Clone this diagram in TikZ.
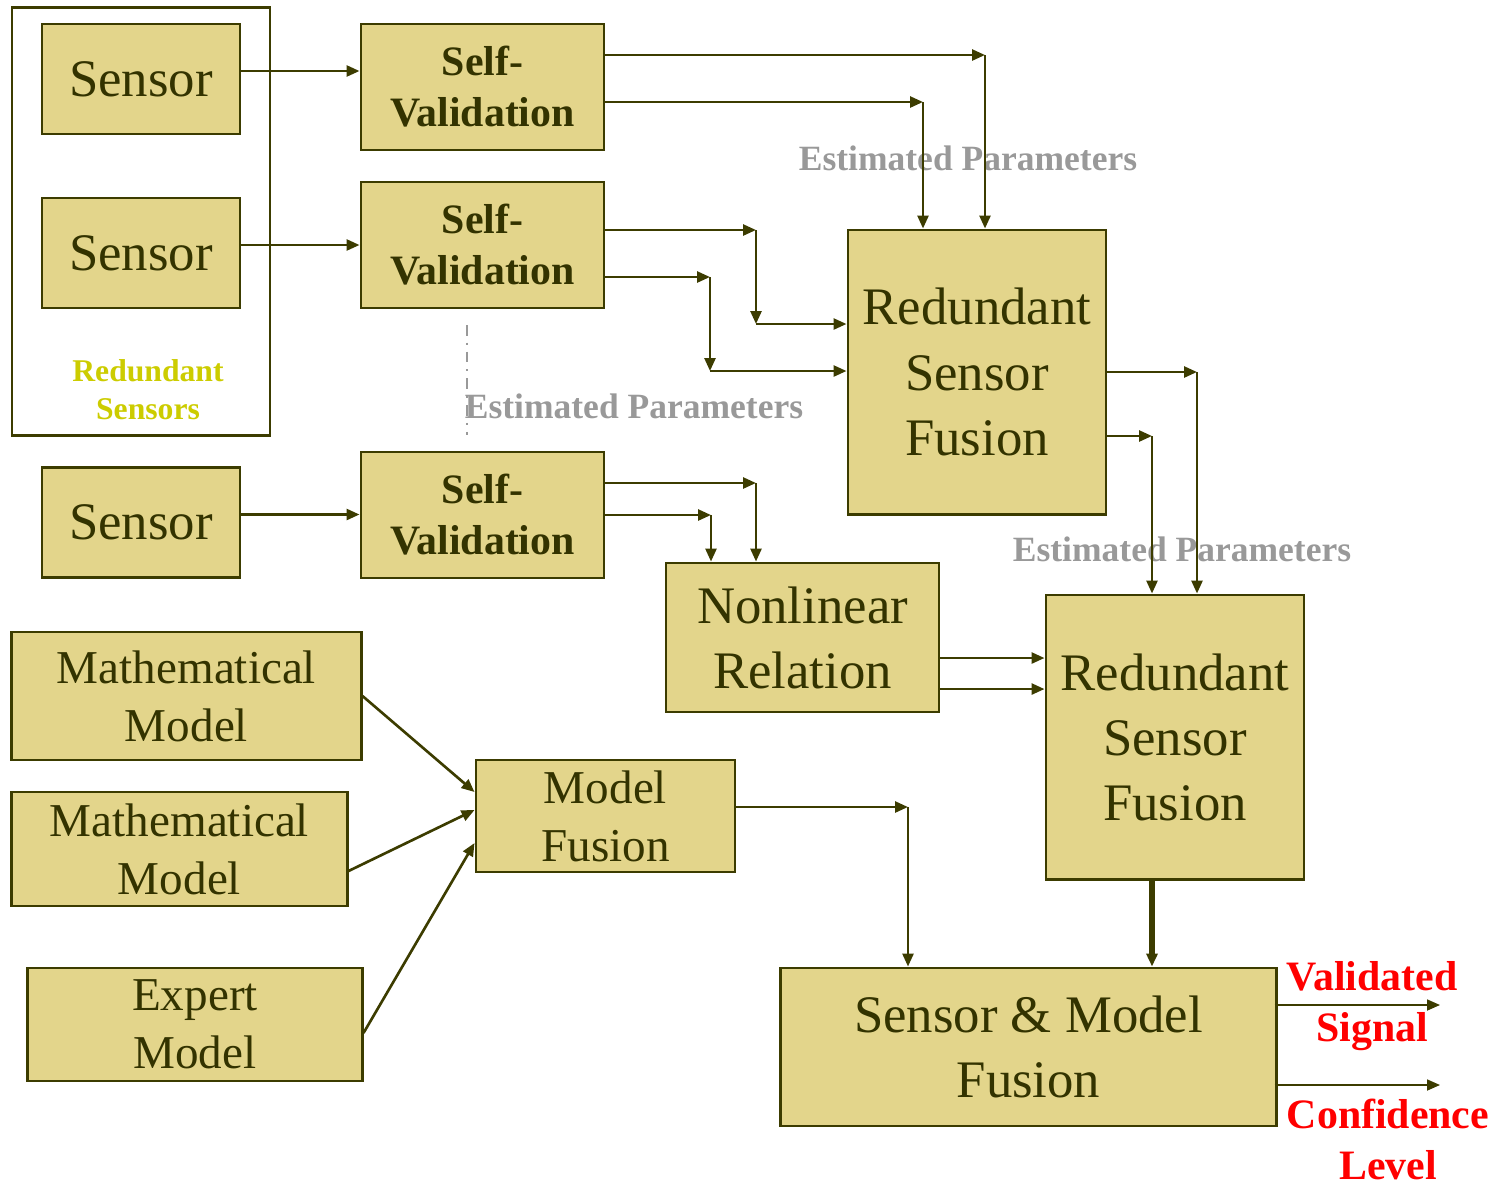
\documentclass[tikz,border=0pt]{standalone}
\usepackage{fontspec}
\setmainfont{Liberation Serif}
\usetikzlibrary{arrows.meta, calc}
\definecolor{boxfill}{RGB}{227,213,139}
\definecolor{boxline}{RGB}{60,60,0}
\definecolor{boxtext}{RGB}{51,51,0}
\definecolor{estgrey}{RGB}{153,153,153}
\definecolor{grptext}{RGB}{204,204,0}
\tikzset{
  block/.style   = {rectangle, draw=boxline, line width=0.8pt, fill=boxfill, inner sep=0pt,
                    align=center, text=boxtext, font=\fontsize{15}{18.5}\selectfont},
  sensor/.style  = {block, minimum width=1.98cm, minimum height=1.1cm},
  selfval/.style = {block, minimum width=2.43cm, minimum height=1.26cm,
                    font=\bfseries\fontsize{11.9}{14.5}\selectfont},
  fusion/.style  = {block, minimum width=2.58cm, minimum height=2.84cm},
  model/.style   = {block, font=\fontsize{13.4}{16.5}\selectfont},
  group/.style   = {rectangle, draw=boxline, line width=0.8pt, inner sep=0pt,
                    minimum width=2.58cm, minimum height=4.27cm},
  flow/.style    = {draw=boxline, line width=0.75pt, -{Triangle[length=1.3mm, width=1.1mm]}},
  bigflow/.style = {flow, line width=1.8pt},
  outflow/.style = {flow, line width=0.5pt},
  est/.style     = {font=\bfseries\fontsize{10.1}{12}\selectfont, text=estgrey, inner sep=0pt},
  outlab/.style  = {font=\bfseries\fontsize{11.9}{14.5}\selectfont, text=red, align=center,
                    inner sep=0pt},
}

\begin{document}
\begin{tikzpicture}[x=0.01cm, y=-0.01cm]
  \useasboundingbox (0,0) rectangle (1509,1184);

  % redundant sensor group
  \node[group] (grp) at (141,221.5) {};
  \node[font=\bfseries\fontsize{9}{10.8}\selectfont, text=grptext, align=center] (grplab)
    at (148,390) {Redundant\\Sensors};

  % sensors and self-validation
  \node[sensor] (s1) at (141,79) {Sensor};
  \node[sensor] (s2) at (141,253) {Sensor};
  \node[sensor] (s3) at (141,522.5) {Sensor};
  \node[selfval] (sv1) at (482.5,87) {Self-\\Validation};
  \node[selfval] (sv2) at (482.5,245) {Self-\\Validation};
  \node[selfval] (sv3) at (482.5,515) {Self-\\Validation};
  \foreach \i in {1,2,3}
    \draw[flow] ([yshift=0.08cm]s\i.east) -- ([yshift=0.08cm]s\i.east -| sv\i.west);

  % fusion stages
  \node[fusion] (rsf1) at (977,372) {Redundant\\Sensor\\Fusion};
  \node[fusion] (rsf2) at (1175,737) {Redundant\\Sensor\\Fusion};
  \node[block, minimum width=2.73cm, minimum height=1.49cm] (nr) at (802.5,637.5)
    {Nonlinear\\Relation};
  \node[block, minimum width=4.95cm, minimum height=1.58cm] (smf) at (1028.5,1047)
    {Sensor \& Model\\Fusion};

  % models
  \node[model, minimum width=3.49cm, minimum height=1.28cm] (mm1) at (186.5,696)
    {Mathematical\\Model};
  \node[model, minimum width=3.35cm, minimum height=1.14cm] (mm2) at (179.5,849)
    {Mathematical\\Model};
  \node[model, minimum width=3.34cm, minimum height=1.13cm] (em) at (195,1024.5)
    {Expert\\Model};
  \node[model, minimum width=2.59cm, minimum height=1.12cm] (mf) at (605.5,816)
    {Model\\Fusion};

  % labels
  \node[est] (est1) at (968,158) {Estimated Parameters};
  \node[est] (est2) at (634,406) {Estimated Parameters};
  \node[est] (est3) at (1182,549) {Estimated Parameters};
  \draw[estgrey, line width=0.6pt, dash dot] (467,325) -- (467,435);

  % bends
  \coordinate (a1) at (985,55);
  \coordinate (a2) at (923,102);
  \coordinate (b1) at (756,230);
  \coordinate (b1d) at (756,324);
  \coordinate (b2) at (710,277);
  \coordinate (b2d) at (710,371);
  \coordinate (c1) at (1197,372);
  \coordinate (c2) at (1152,436);
  \coordinate (d1) at (756,483);
  \coordinate (d2) at (711,515);
  \coordinate (m1) at (908,807);
  \coordinate (v1) at (1440,1005);
  \coordinate (v2) at (1440,1085);

  % self-validation to fusion
  \draw[flow] (sv1.east |- a1) -- (a1);
  \draw[flow] (a1) -- (a1 |- rsf1.north);
  \draw[flow] (sv1.east |- a2) -- (a2);
  \draw[flow] (a2) -- (a2 |- rsf1.north);
  \draw[flow] (sv2.east |- b1) -- (b1);
  \draw[flow] (b1) -- (b1d);
  \draw[flow] (b1d) -- (b1d -| rsf1.west);
  \draw[flow] (sv2.east |- b2) -- (b2);
  \draw[flow] (b2) -- (b2d);
  \draw[flow] (b2d) -- (b2d -| rsf1.west);
  \draw[flow] (rsf1.east |- c1) -- (c1);
  \draw[flow] (c1) -- (c1 |- rsf2.north);
  \draw[flow] (rsf1.east |- c2) -- (c2);
  \draw[flow] (c2) -- (c2 |- rsf2.north);
  \draw[flow] (sv3.east |- d1) -- (d1);
  \draw[flow] (d1) -- (d1 |- nr.north);
  \draw[flow] (sv3.east |- d2) -- (d2);
  \draw[flow] (d2) -- (d2 |- nr.north);
  \draw[flow] ([yshift=-0.205cm]nr.east) -- ([yshift=-0.205cm]nr.east -| rsf2.west);
  \draw[flow] ([yshift=-0.515cm]nr.east) -- ([yshift=-0.515cm]nr.east -| rsf2.west);

  % models to fusion
  \draw[flow] (mm1.east) -- ([yshift=0.24cm]mf.west);
  \draw[flow] ([yshift=-0.22cm]mm2.east) -- ([yshift=0.06cm]mf.west);
  \draw[flow] ([yshift=-0.085cm]em.east) -- ([yshift=-0.27cm]mf.west);
  \draw[flow] (mf.east |- m1) -- (m1);
  \draw[flow] (m1) -- (m1 |- smf.north);
  \draw[bigflow] (c2 |- rsf2.south) -- (c2 |- smf.north);

  % outputs
  \draw[outflow] ([xshift=-0.03cm]smf.east |- v1) -- (v1);
  \draw[outflow] ([xshift=-0.03cm]smf.east |- v2) -- (v2);
  \node[outlab] (vs) at (1372,1006) {Validated\\Signal};
  \node[outlab] (cl) at (1388,1139) {Confidence\\Level};
\end{tikzpicture}
\end{document}
